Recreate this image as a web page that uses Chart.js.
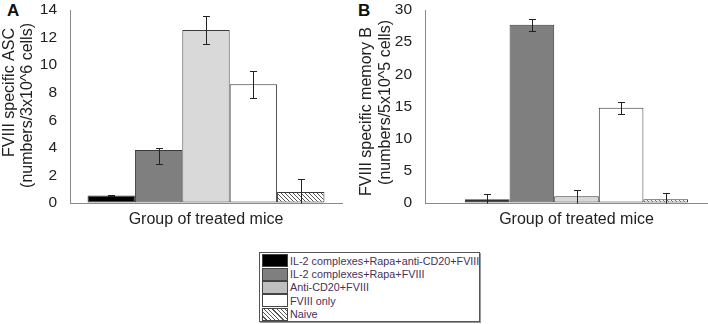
<!DOCTYPE html>
<html lang="en">
<head>
<meta charset="UTF-8">
<title>FVIII specific ASC and memory B</title>
<script src="https://cdn.jsdelivr.net/npm/chart.js"></script>
<style>
  body { margin: 0; width: 708px; height: 324px; overflow: hidden; background: #fff; position: relative; font-family: "Liberation Sans", Arial, sans-serif; }
  canvas { position: absolute; top: 0; }
  #chartA { left: 0; }
  #chartB { left: 355px; }
  .letter { position: absolute; top: 1px; font-weight: bold; font-size: 17px; color: #111; }
  #legend { position: absolute; left: 259px; top: 252px; width: 221px; border: 1px solid #555; box-shadow: 1px 1px 0 #999; padding: 1px 0 0 2px; box-sizing: border-box; }
  .row { height: 13.4px; display: flex; align-items: center; font-size: 10.8px; color: #45315a; white-space: nowrap; }
  .sw { width: 24px; height: 11px; border: 1px solid #444; margin-right: 2px; flex: none; }
</style>
</head>
<body>
<div class="letter" style="left:7px">A</div>
<div class="letter" style="left:358px">B</div>
<canvas id="chartA" width="350" height="235"></canvas>
<canvas id="chartB" width="380" height="235"></canvas>
<div id="legend"></div>

<script>
// groups of mice (one bar each)
const groups = ['IL-2 complexes+Rapa+anti-CD20+FVIII', 'IL-2 complexes+Rapa+FVIII', 'Anti-CD20+FVIII', 'FVIII only', 'Naive'];
const barColors = ['#000000', '#7f7f7f', '#d9d9d9', '#ffffff', 'hatch'];
const swatchColors = ['#000000', '#7f7f7f', '#bfbfbf', '#ffffff', 'hatch'];

// panel A: FVIII specific ASC
const ascMean = [0.55, 3.85, 12.55, 8.62, 0.80];
const ascHigh = [0.60, 3.99, 13.55, 9.60, 1.75];
const ascLow  = [0.50, 2.85, 11.55, 7.62, 0.00];
const ascTicks = { max: 14, step: 2 };

// panel B: FVIII specific memory B
const memMean = [0.60, 27.70, 1.05, 14.80, 0.60];
const memHigh = [1.40, 28.60, 2.00, 15.75, 1.55];
const memLow  = [0.00, 26.70, 0.00, 13.80, 0.00];
const memTicks = { max: 30, step: 5 };

const FONT = '"Liberation Sans", Arial, sans-serif';
const TEXT = '#222';

// diagonal hatch for the naive group
function makeHatch() {
  const c = document.createElement('canvas');
  c.width = 4; c.height = 4;
  const g = c.getContext('2d');
  g.fillStyle = '#fff'; g.fillRect(0, 0, 4, 4);
  g.strokeStyle = '#555'; g.lineWidth = 1;
  g.beginPath();
  g.moveTo(-1, -1); g.lineTo(5, 5);
  g.moveTo(-1, 3); g.lineTo(1, 5);
  g.moveTo(3, -1); g.lineTo(5, 1);
  g.stroke();
  return g.createPattern(c, 'repeat');
}
const hatch = makeHatch();

const errorBars = {
  id: 'errorBars',
  afterDatasetsDraw(chart, args, opts) {
    const ctx = chart.ctx, y = chart.scales.y;
    ctx.save();
    ctx.strokeStyle = '#222';
    ctx.lineWidth = 1;
    chart.data.datasets.forEach((ds, i) => {
      const bar = chart.getDatasetMeta(i).data[0];
      const x = Math.round(bar.x) + 0.5;
      const top = Math.round(y.getPixelForValue(opts.high[i])) + 0.5;
      const bot = Math.round(y.getPixelForValue(opts.low[i])) + 0.5;
      ctx.beginPath();
      ctx.moveTo(x, top); ctx.lineTo(x, bot);
      ctx.moveTo(x - 3.5, top); ctx.lineTo(x + 3.5, top);
      if (opts.low[i] > 0) { ctx.moveTo(x - 3.5, bot); ctx.lineTo(x + 3.5, bot); }
      ctx.stroke();
    });
    ctx.restore();
  }
};

// rotated two-line y title, each line end-aligned near the top
const yTitle = {
  id: 'yTitle',
  afterDraw(chart, args, opts) {
    const ctx = chart.ctx;
    ctx.save();
    ctx.font = '16px ' + FONT;
    ctx.fillStyle = TEXT;
    ctx.textAlign = 'right';
    ctx.textBaseline = 'middle';
    opts.lines.forEach((t, k) => {
      ctx.save();
      ctx.translate(opts.xs[k], opts.ends[k]);
      ctx.rotate(-Math.PI / 2);
      ctx.fillText(t, 0, 0);
      ctx.restore();
    });
    ctx.restore();
  }
};

function makeChart(id, means, high, low, ticks, titleLines, titleXs, titleEnds, catPct, rightPad) {
  return new Chart(document.getElementById(id), {
    type: 'bar',
    data: {
      labels: [''],
      datasets: groups.map((g, i) => ({
        label: g,
        data: [means[i]],
        backgroundColor: barColors[i] === 'hatch' ? hatch : barColors[i],
        borderColor: '#3a3a3a',
        borderWidth: 1,
        borderSkipped: false
      }))
    },
    options: {
      responsive: false,
      animation: false,
      layout: { padding: { top: 10, right: rightPad, bottom: 0, left: 0 } },
      plugins: {
        legend: { display: false },
        tooltip: { enabled: false },
        errorBars: { high: high, low: low },
        yTitle: { lines: titleLines, xs: titleXs, ends: titleEnds }
      },
      datasets: { bar: { barPercentage: 1, categoryPercentage: catPct } },
      scales: {
        x: {
          grid: { display: true, drawOnChartArea: false, drawTicks: false },
          border: { color: '#8a8a8a', width: 1 },
          ticks: { display: false },
          title: { display: true, text: 'Group of treated mice', color: TEXT, font: { family: FONT, size: 16 }, padding: { top: 0, bottom: 6 } },
          afterFit(s) { s.height = 32; }
        },
        y: {
          min: 0, max: ticks.max,
          grid: { display: true, drawOnChartArea: false, drawTicks: false },
          border: { color: '#8a8a8a', width: 1 },
          ticks: { stepSize: ticks.step, padding: 13, color: TEXT, font: { family: FONT, size: 15.5 } },
          afterFit(s) { s.width = 70; s.paddingTop = 0; s.paddingBottom = 0; }
        }
      }
    },
    plugins: [errorBars, yTitle]
  });
}

makeChart('chartA', ascMean, ascHigh, ascLow, ascTicks,
  ['FVIII specific ASC', '(numbers/3x10^6 cells)'], [10, 28], [28, 23], 0.871, 8);
makeChart('chartB', memMean, memHigh, memLow, memTicks,
  ['FVIII specific memory B', '(numbers/5x10^5 cells)'], [12, 31], [27, 20], 0.736, 7);

// legend
const legend = document.getElementById('legend');
groups.forEach((g, i) => {
  const row = document.createElement('div');
  row.className = 'row';
  const sw = document.createElement('div');
  sw.className = 'sw';
  if (swatchColors[i] === 'hatch') {
    sw.style.background = 'repeating-linear-gradient(45deg, #fff 0 2px, #555 2px 3px)';
  } else {
    sw.style.background = swatchColors[i];
  }
  const label = document.createElement('span');
  label.textContent = g;
  row.appendChild(sw);
  row.appendChild(label);
  legend.appendChild(row);
});
</script>
</body>
</html>
